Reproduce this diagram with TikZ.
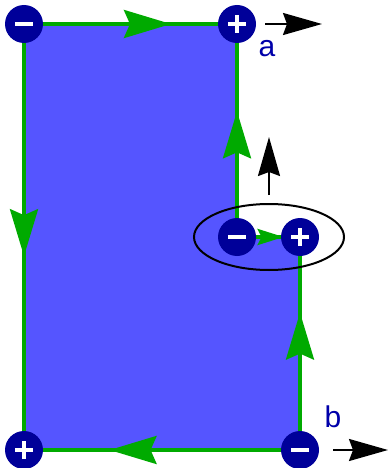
\documentclass[tikz,border=0pt]{standalone}
\usepackage{fontspec}
\setmainfont{Liberation Sans}
\usetikzlibrary{arrows.meta,decorations.markings,shapes.geometric,backgrounds}
\definecolor{plate}{HTML}{5555FF}
\definecolor{wire}{HTML}{00AA00}
\definecolor{chg}{HTML}{000099}
\definecolor{lbl}{HTML}{0000AA}
\tikzset{
  x=1pt, y=-1pt,
  chargebase/.style={circle, fill=chg, minimum size=38pt, inner sep=0pt},
  chargeminus/.style={chargebase, path picture={
      \draw[white, line width=4pt] ([xshift=-9pt]path picture bounding box.center) -- ([xshift=9pt]path picture bounding box.center);}},
  chargeplus/.style={chargebase, path picture={
      \draw[white, line width=4pt] ([xshift=-9pt]path picture bounding box.center) -- ([xshift=9pt]path picture bounding box.center);
      \draw[white, line width=4pt] ([yshift=-9pt]path picture bounding box.center) -- ([yshift=9pt]path picture bounding box.center);}},
  edge/.style={draw=wire, line width=3.5pt},
  bigmark/.style={postaction={decorate, decoration={markings,
      mark=at position #1 with {\arrow[wire]{Stealth[length=47pt,width=28pt,inset=6pt]}}}}},
  smallmark/.style={postaction={decorate, decoration={markings,
      mark=at position #1 with {\arrow[wire]{Stealth[length=26pt,width=16pt,inset=4pt]}}}}},
  force/.style={draw=black, line width=2pt, -{Stealth[length=39pt,width=22pt,inset=4pt]}},
  letter/.style={text=lbl, font=\fontsize{30}{30}\selectfont, inner sep=0pt, anchor=base},
  loopring/.style={draw=black, line width=2pt, ellipse, minimum width=150pt, minimum height=66pt, inner sep=0pt}
}
\begin{document}
\begin{tikzpicture}
\useasboundingbox (0,0) rectangle (389,468);
% charges
\node[chargeminus] (tl) at (24,24) {};
\node[chargeplus]  (tr) at (237,24) {};
\node[chargeminus] (mm) at (237,237) {};
\node[chargeplus]  (mp) at (300,237) {};
\node[chargeplus]  (bl) at (24,450) {};
\node[chargeminus] (br) at (300,450) {};
\begin{pgfonlayer}{background}
  \fill[plate] (tl.center) -- (tr.center) -- (mm.center) -- (mp.center) -- (br.center) -- (bl.center) -- cycle;
  \path[edge, bigmark=0.69]  (tl.center) -- (tr.center);
  \path[edge, bigmark=0.59]  (mm.center) -- (tr.center);
  \path[edge, smallmark=0.74] (mm.center) -- (mp.center);
  \path[edge, bigmark=0.645] (br.center) -- (mp.center);
  \path[edge, bigmark=0.69]  (br.center) -- (bl.center);
  \path[edge, bigmark=0.545] (tl.center) -- (bl.center);
\end{pgfonlayer}
% current loop
\node[loopring] (loop) at (269,237) {};
% forces
\coordinate (fa1) at (265,24);
\coordinate (fa2) at (322,24);
\coordinate (fm1) at (269,195);
\coordinate (fm2) at (269,137);
\coordinate (fb1) at (333,450);
\coordinate (fb2) at (388,450);
\draw[force] (fa1) -- (fa2);
\draw[force] (fm1) -- (fm2);
\draw[force] (fb1) -- (fb2);
% labels
\node[letter] (la) at (267,57) {a};
\node[letter] (lb) at (333,427) {b};
\end{tikzpicture}
\end{document}
